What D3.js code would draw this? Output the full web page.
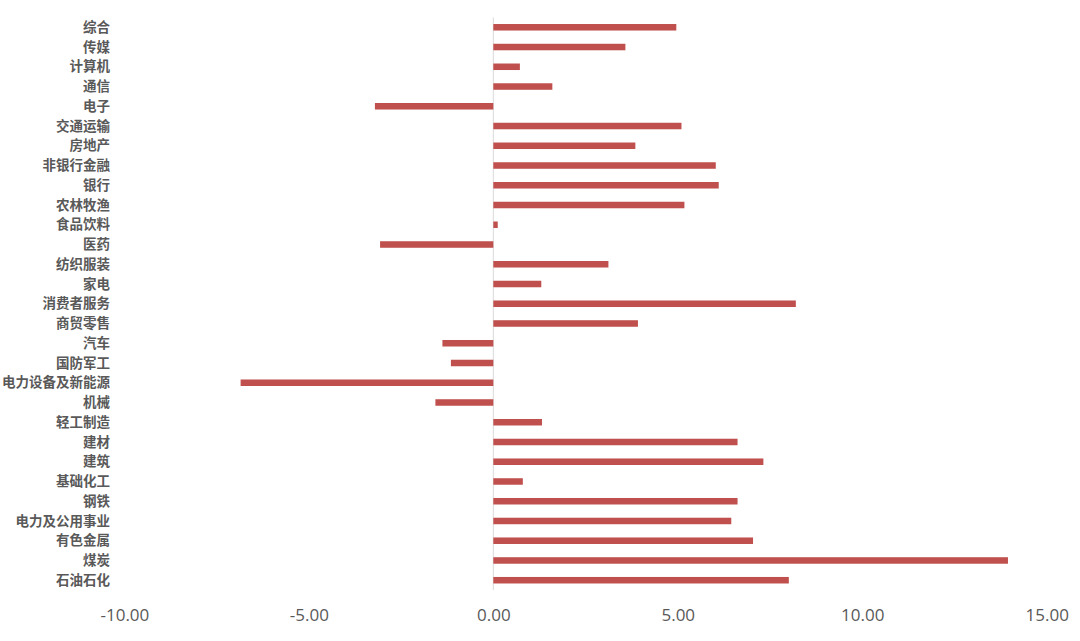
<!DOCTYPE html>
<html lang="zh">
<head>
<meta charset="utf-8">
<title>行业涨跌幅</title>
<script src="https://cdnjs.cloudflare.com/ajax/libs/d3/7.8.5/d3.min.js"></script>
<style>
  body { margin: 0; background: #fff; }
  .cat text { font-family: "Noto Sans CJK SC", sans-serif; font-size: 13.5px; font-weight: 700; fill: #595959; }
  .xaxis text { font-family: "Open Sans", "Noto Sans", sans-serif; font-size: 17px; fill: #595959; }
</style>
</head>
<body>
<script>
var categories = ["综合","传媒","计算机","通信","电子","交通运输","房地产","非银行金融","银行","农林牧渔",
  "食品饮料","医药","纺织服装","家电","消费者服务","商贸零售","汽车","国防军工","电力设备及新能源","机械",
  "轻工制造","建材","建筑","基础化工","钢铁","电力及公用事业","有色金属","煤炭","石油石化"];
var values = [4.96,3.58,0.72,1.60,-3.21,5.10,3.85,6.03,6.11,5.18,
  0.12,-3.07,3.12,1.30,8.20,3.92,-1.38,-1.15,-6.85,-1.57,
  1.32,6.62,7.32,0.80,6.62,6.45,7.04,13.95,8.01];
var xTicks = [-10, -5, 0, 5, 10, 15];

var w = 1080, h = 641;
var svg = d3.select("body").append("svg")
  .attr("width", w).attr("height", h);

var x = d3.scaleLinear().domain([-10, 15]).range([124.4, 1046.7]);
var y = d3.scaleBand().domain(categories).range([17.5, 590]).paddingInner(0.67).paddingOuter(0.33);

// zero line
svg.append("line")
  .attr("x1", x(0)).attr("x2", x(0))
  .attr("y1", 17.5).attr("y2", 590)
  .attr("stroke", "#d9d9d9").attr("stroke-width", 1);

svg.selectAll("rect.bar")
  .data(values)
  .enter()
  .append("rect")
  .attr("class", "bar")
  .attr("x", function(d) { return Math.min(x(0), x(d)); })
  .attr("y", function(d, i) { return y(categories[i]); })
  .attr("width", function(d) { return Math.abs(x(d) - x(0)); })
  .attr("height", y.bandwidth())
  .attr("fill", "#C0504D");

// category labels
svg.append("g")
  .attr("class", "cat")
  .selectAll("text")
  .data(categories)
  .enter()
  .append("text")
  .attr("x", 110)
  .attr("y", function(d) { return y(d) + y.bandwidth() / 2; })
  .attr("dy", "0.35em")
  .attr("text-anchor", "end")
  .text(function(d) { return d; });

// x axis (plain hyphen for minus, like the original)
var xAxis = d3.axisBottom(x).tickValues(xTicks).tickSize(0).tickPadding(0)
  .tickFormat(function(d) { return d.toFixed(2); });
var gx = svg.append("g").attr("class", "xaxis")
  .attr("transform", "translate(0,608)")
  .call(xAxis);
gx.select(".domain").remove();
gx.selectAll("text").attr("dy", "0.75em").attr("font-family", null).attr("font-size", null).attr("fill", null);
</script>
</body>
</html>
